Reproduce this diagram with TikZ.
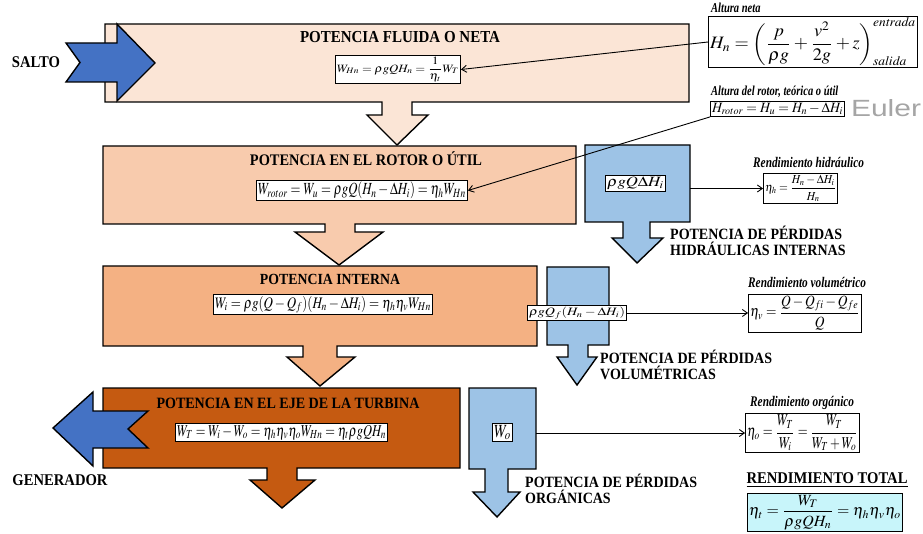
\documentclass[tikz,border=0pt]{standalone}
\usepackage{mathptmx}
\usepackage{fontspec}
\setmainfont{Liberation Serif}
\newfontfamily\eulerfont{Liberation Sans}
\usepackage{graphicx}
\usetikzlibrary{arrows.meta}

\definecolor{fluida}{RGB}{251,229,214}
\definecolor{rotor}{RGB}{248,203,173}
\definecolor{interna}{RGB}{244,177,131}
\definecolor{eje}{RGB}{197,90,17}
\definecolor{perdida}{RGB}{157,195,230}
\definecolor{flujo}{RGB}{68,114,196}
\definecolor{total}{RGB}{200,245,250}
\definecolor{eulergray}{RGB}{165,165,165}

% formula scaled to a given width and total height (in pt)
\newcommand{\fm}[3]{\resizebox*{#1pt}{#2pt}{$\displaystyle #3$}}
% text scaled to a given width (in pt), slightly stretched upwards
\newcommand{\fw}[2]{\resizebox{#1pt}{!}{\scalebox{1}[1.12]{#2}}}
% bold italic heading, condensed look
\newcommand{\hd}[1]{\scalebox{1}[1.3]{#1}}
% capital label line, slightly stretched upwards
\newcommand{\cl}[1]{\scalebox{1}[1.12]{#1}}

\begin{document}
\begin{tikzpicture}[x=1pt,y=-1pt,
  block/.style={draw=black,line width=1.4pt,line join=miter},
  fbox/.style={draw=black,line width=0.8pt,fill=white,inner sep=1.5pt},
  caps/.style={font=\bfseries\fontsize{14}{16.5}\selectfont,inner sep=0pt},
  ital/.style={font=\bfseries\itshape\fontsize{11.3}{13}\selectfont,inner sep=0pt,anchor=west},
  link/.style={line width=0.9pt,-{Straight Barb[length=5pt,width=7pt]}}]

\useasboundingbox (0,0) rectangle (923,534);

% ---- power blocks, each merged with its downward arrow ----
\draw[block,fill=fluida] (105,24) -- (689,24) -- (689,102) -- (412,102) -- (412,115)
  -- (428,115) -- (397,145) -- (367,115) -- (382,115) -- (382,102) -- (105,102) -- cycle;
\draw[block,fill=rotor] (103,146) -- (576,146) -- (576,224) -- (355,224) -- (355,232)
  -- (383,232) -- (339,265) -- (295,232) -- (325,232) -- (325,224) -- (103,224) -- cycle;
\draw[block,fill=interna] (103,266) -- (537,266) -- (537,346) -- (337,346) -- (337,357)
  -- (355,357) -- (320,386) -- (287,357) -- (303,357) -- (303,346) -- (103,346) -- cycle;
\draw[block,fill=eje] (103,388) -- (460,388) -- (460,468) -- (297,468) -- (297,480)
  -- (315,480) -- (282,508) -- (250,480) -- (267,480) -- (267,468) -- (103,468) -- cycle;

% ---- loss blocks ----
\draw[block,fill=perdida] (585,145) -- (690,145) -- (690,222) -- (650,222) -- (650,238)
  -- (663,238) -- (637,263) -- (612,238) -- (623,238) -- (623,222) -- (585,222) -- cycle;
\draw[block,fill=perdida] (547,267) -- (609,267) -- (609,345) -- (588,345) -- (588,357)
  -- (597,357) -- (577,385) -- (557,357) -- (568,357) -- (568,345) -- (547,345) -- cycle;
\draw[block,fill=perdida] (469,388) -- (536,388) -- (536,469) -- (508,469) -- (508,492)
  -- (520,492) -- (497,517) -- (473,492) -- (485,492) -- (485,469) -- (469,469) -- cycle;

% ---- input and output arrows ----
\draw[block,fill=flujo] (66,43) -- (117,43) -- (117,24) -- (155,63) -- (117,101)
  -- (117,82) -- (66,82) -- (80,62.5) -- cycle;
\draw[block,fill=flujo] (53,428) -- (93,392) -- (93,411) -- (148,411) -- (128,429)
  -- (148,448) -- (93,448) -- (93,466) -- cycle;

\node[caps] (salto) at (36,62) {\fw{48}{SALTO}};
\node[caps] (gen) at (60,480) {\fw{95}{GENERADOR}};

% ---- block titles ----
\node[caps] (t1) at (400,37) {\fw{200}{POTENCIA FLUIDA O NETA}};
\node[caps] (t2) at (366,159) {\fw{232}{POTENCIA EN EL ROTOR O ÚTIL}};
\node[caps] (t3) at (330,279) {\fw{140}{POTENCIA INTERNA}};
\node[caps] (t4) at (288,403) {\fw{263}{POTENCIA EN EL EJE DE LA TURBINA}};

% ---- formulas inside blocks ----
\node[fbox] (f1) at (398,69.5) {\fm{122}{25}{W_{Hn}=\rho gQH_n=\frac{1}{\eta_t}W_T}};
\node[fbox] (f2) at (362,190.5) {\fm{208}{17}{W_{rotor}=W_u=\rho gQ(H_n-\Delta H_i)=\eta_h W_{Hn}}};
\node[fbox] (f3) at (323,304.5) {\fm{216}{17}{W_i=\rho g(Q-Q_f)(H_n-\Delta H_i)=\eta_h\eta_v W_{Hn}}};
\node[fbox] (f4) at (281.5,432.5) {\fm{209}{15}{W_T=W_i-W_o=\eta_h\eta_v\eta_o W_{Hn}=\eta_t\rho gQH_n}};

% ---- loss values ----
\node[fbox] (l1) at (635.5,183.5) {\fm{57}{13}{\rho gQ\Delta H_i}};
\node[fbox] (l2) at (577,313) {\fm{96}{12}{\rho gQ_f(H_n-\Delta H_i)}};
\node[fbox] (l3) at (502.5,432.5) {\fm{17}{15}{W_o}};

\node[caps,anchor=west,align=left] (p1) at (670,241) {\cl{POTENCIA DE PÉRDIDAS}\\\cl{HIDRÁULICAS INTERNAS}};
\node[caps,anchor=west,align=left] (p2) at (600,365) {\cl{POTENCIA DE PÉRDIDAS}\\\cl{VOLUMÉTRICAS}};
\node[caps,anchor=west,align=left] (p3) at (525,489) {\cl{POTENCIA DE PÉRDIDAS}\\\cl{ORGÁNICAS}};

% ---- heads ----
\node[ital,font=\bfseries\itshape\fontsize{10.5}{12}\selectfont] (a1) at (711,8) {\hd{Altura neta}};
\node[fbox] (hn) at (813,42) {\fm{206}{48}{H_n=\left(\frac{p}{\rho g}+\frac{v^2}{2g}+z\right)_{\mathit{salida}}^{\mathit{entrada}}}};
\node[ital,font=\bfseries\itshape\fontsize{10.5}{12}\selectfont] (a2) at (711,92) {\hd{Altura del rotor, teórica o útil}};
\node[fbox] (hr) at (777.5,109) {\fm{131}{12}{H_{rotor}=H_u=H_n-\Delta H_i}};
\node[font=\eulerfont,text=eulergray,inner sep=0pt] (eu) at (886,108) {\resizebox{70pt}{17pt}{Euler}};

% ---- efficiencies ----
\node[ital] (r1) at (753,162) {\hd{Rendimiento hidráulico}};
\node[fbox] (eh) at (800.5,188.5) {\fm{71}{27}{\eta_h=\frac{H_n-\Delta H_i}{H_n}}};
\node[ital] (r2) at (748,282) {\hd{Rendimiento volumétrico}};
\node[fbox] (ev) at (805,313) {\fm{110}{35}{\eta_v=\frac{Q-Q_{fi}-Q_{fe}}{Q}}};
\node[ital] (r3) at (750,403) {\hd{Rendimiento orgánico}};
\node[fbox] (eo) at (802.5,433) {\fm{111}{36}{\eta_o=\frac{W_T}{W_i}=\frac{W_T}{W_T+W_o}}};
\node[caps] (rt) at (827,480) {\fw{161}{\underline{RENDIMIENTO TOTAL}}};
\node[fbox,fill=total] (et) at (825,512.5) {\fm{152}{35}{\eta_t=\frac{W_T}{\rho gQH_n}=\eta_h\eta_v\eta_o}};

% ---- connectors ----
\coordinate (b1e) at (690,188.5);
\coordinate (b3e) at (536,433);
\draw[link] (hn.west) -- (f1.east);
\draw[link] (hr.south west) -- (f2.east);
\draw[link] (b1e) -- (eh.west);
\draw[link] (l2.east) -- (ev.west);
\draw[link] (b3e) -- (eo.west);
\end{tikzpicture}
\end{document}
